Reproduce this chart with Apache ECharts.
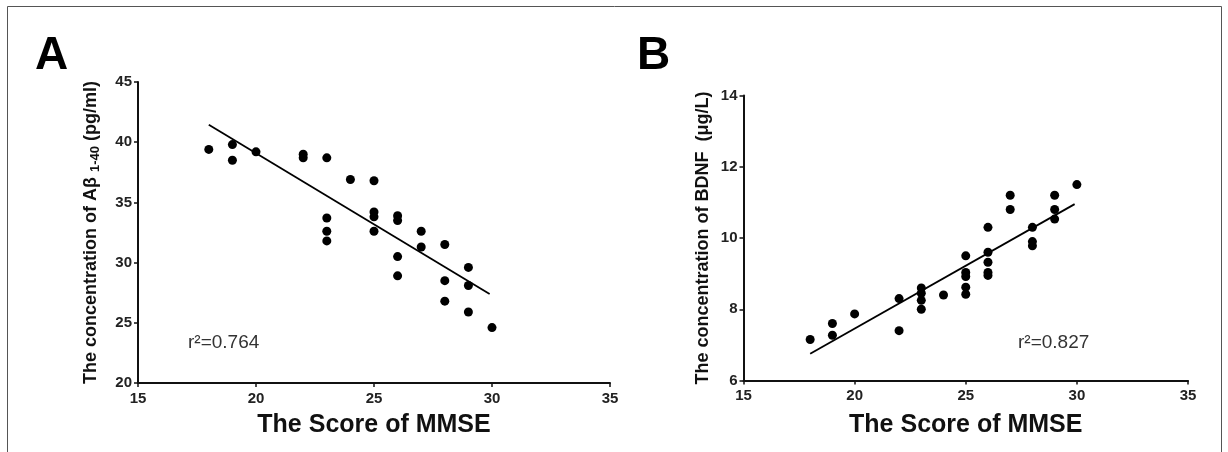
<!DOCTYPE html>
<html>
<head>
<meta charset="utf-8">
<script src="https://cdn.jsdelivr.net/npm/echarts@6/dist/echarts.min.js"></script>
<style>
html,body{margin:0;padding:0;background:#fff;}
#chart{width:1228px;height:452px;}
</style>
</head>
<body>
<div id="chart"></div>
<script>
// ---- data ----
const mmseA = [18,19,19,20,22,22,23,23,23,23,24,25,25,25,25,26,26,26,26,27,27,28,28,28,29,29,29,30];
const abeta = [39.4,39.8,38.5,39.2,39.0,38.7,38.7,33.7,32.6,31.8,36.9,36.8,34.2,33.8,32.6,33.9,33.5,30.5,28.9,32.6,31.3,31.5,28.5,26.8,29.6,28.1,25.9,24.6];
const mmseB = [18,19,19,20,22,22,23,23,23,23,24,25,25,25,25,25,26,26,26,26,26,27,27,28,28,28,29,29,29,30];
const bdnf = [7.15,7.6,7.27,7.87,8.3,7.4,8.6,8.45,8.25,8.0,8.4,9.5,9.03,8.92,8.62,8.42,10.3,9.6,9.32,9.03,8.95,11.2,10.8,10.3,9.9,9.78,11.2,10.8,10.53,11.5];
const fitAx = [18, 29.9];
const fitAy = [41.45, 27.4];
const fitBx = [18, 29.9];
const fitBy = [6.75, 10.95];
const xTicks = [15, 20, 25, 30, 35];
const yTicksA = [20, 25, 30, 35, 40, 45];
const yTicksB = [6, 8, 10, 12, 14];
const r2A = 'r\u00B2=0.764';
const r2B = 'r\u00B2=0.827';
const xTitle = 'The Score of MMSE';
const yTitleA = 'The concentration of A\u03B2 {sub|1-40} (pg/ml)';
const yTitleB = 'The concentration of BDNF  (\u03BCg/L)';

const FONT = '"Liberation Sans", Arial, Helvetica, sans-serif';
const zip = (xs, ys) => xs.map((x, i) => [x, ys[i]]);

function xAxisCfg(gi, gap) {
  return {
    gridIndex: gi, type: 'value',
    min: xTicks[0], max: xTicks[xTicks.length - 1], interval: xTicks[1] - xTicks[0],
    name: xTitle, nameLocation: 'middle', nameGap: gap,
    nameTextStyle: { fontFamily: FONT, fontSize: 25, fontWeight: 'bold', color: '#111' },
    axisLine: { onZero: false, lineStyle: { color: '#111', width: 2 } },
    axisTick: { show: true, length: 4, lineStyle: { color: '#111', width: 1.5 } },
    axisLabel: { fontFamily: FONT, fontSize: 15, fontWeight: 'bold', color: '#222', margin: 8 },
    splitLine: { show: false }
  };
}
function yAxisCfg(gi, ticks, name, gap, rich) {
  return {
    gridIndex: gi, type: 'value',
    min: ticks[0], max: ticks[ticks.length - 1], interval: ticks[1] - ticks[0],
    name: name, nameLocation: 'middle', nameGap: gap, nameRotate: 90,
    nameTextStyle: { fontFamily: FONT, fontSize: 18, fontWeight: 'bold', color: '#111', lineHeight: 22, rich: rich },
    axisLine: { onZero: false, lineStyle: { color: '#111', width: 2 } },
    axisTick: { show: true, length: 4, lineStyle: { color: '#111', width: 1.5 } },
    axisLabel: { fontFamily: FONT, fontSize: 15, fontWeight: 'bold', color: '#222', margin: 6 },
    splitLine: { show: false }
  };
}

const subRich = { sub: { fontFamily: FONT, fontSize: 13, fontWeight: 'bold', color: '#111', lineHeight: 14, verticalAlign: 'bottom' } };

const chart = echarts.init(document.getElementById('chart'), null, { renderer: 'canvas' });
chart.setOption({
  backgroundColor: '#ffffff',
  animation: false,
  grid: [
    { left: 138, top: 82, width: 472, height: 301 },
    { left: 743.5, top: 95.5, width: 444.5, height: 285 }
  ],
  xAxis: [xAxisCfg(0, 30), xAxisCfg(1, 32)],
  yAxis: [
    yAxisCfg(0, yTicksA, yTitleA, 36, subRich),
    yAxisCfg(1, yTicksB, yTitleB, 29, {})
  ],
  graphic: [
    { type: 'rect', silent: true, shape: { x: 7.5, y: 6.5, width: 1214, height: 470 },
      style: { fill: 'none', stroke: '#555', lineWidth: 1 } },
    { type: 'text', left: 35, top: 33, style: { text: 'A', font: 'bold 46px ' + FONT, fill: '#000' } },
    { type: 'text', left: 637, top: 33, style: { text: 'B', font: 'bold 46px ' + FONT, fill: '#000' } },
    { type: 'text', x: 188, y: 343, style: { text: r2A, font: '19px ' + FONT, fill: '#333', textVerticalAlign: 'middle' } },
    { type: 'text', x: 1018, y: 343, style: { text: r2B, font: '19px ' + FONT, fill: '#333', textVerticalAlign: 'middle' } }
  ],
  series: [
    { type: 'scatter', xAxisIndex: 0, yAxisIndex: 0, data: zip(mmseA, abeta), symbolSize: 9, itemStyle: { color: '#000', opacity: 1 } },
    { type: 'line', xAxisIndex: 0, yAxisIndex: 0, data: zip(fitAx, fitAy), symbol: 'none', lineStyle: { color: '#000', width: 1.8 } },
    { type: 'scatter', xAxisIndex: 1, yAxisIndex: 1, data: zip(mmseB, bdnf), symbolSize: 9, itemStyle: { color: '#000', opacity: 1 } },
    { type: 'line', xAxisIndex: 1, yAxisIndex: 1, data: zip(fitBx, fitBy), symbol: 'none', lineStyle: { color: '#000', width: 1.8 } }
  ]
});
</script>
</body>
</html>
